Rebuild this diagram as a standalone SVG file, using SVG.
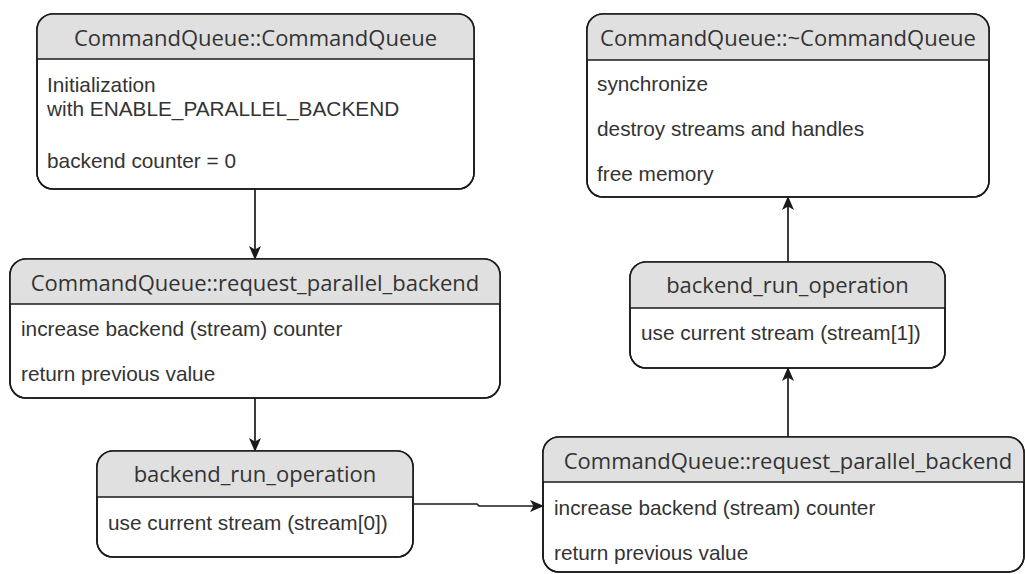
<svg xmlns="http://www.w3.org/2000/svg" width="1025" height="574" viewBox="0 0 1025 574">
<style>
.box{fill:#ffffff;stroke:#1a1a1a;stroke-width:1.6}
.hdr{fill:#e0e0e0;stroke:none}
.sep{stroke:#1a1a1a;stroke-width:1.6}
.title{font-family:"Open Sans","Noto Sans",sans-serif;font-size:22px;fill:#333333;text-anchor:middle;dominant-baseline:central}
.body{font-family:"Liberation Sans",Arial,sans-serif;font-size:20.8px;fill:#333333;dominant-baseline:central}
.edge{fill:none;stroke:#1a1a1a;stroke-width:1.7}
</style>
<defs>
<marker id="arr" viewBox="0 0 14 12" refX="13" refY="6" markerWidth="14" markerHeight="12" markerUnits="userSpaceOnUse" orient="auto">
<path d="M0,0 L14,6 L0,12 L3.5,6 Z" fill="#1a1a1a"/>
</marker>
<clipPath id="c1"><rect x="37" y="14" width="437" height="175" rx="16"/></clipPath>
<clipPath id="c2"><rect x="10" y="259" width="490" height="139" rx="16"/></clipPath>
<clipPath id="c3"><rect x="97" y="451" width="316" height="106" rx="16"/></clipPath>
<clipPath id="c4"><rect x="543" y="437" width="481" height="135" rx="16"/></clipPath>
<clipPath id="c5"><rect x="587" y="14" width="402" height="183" rx="16"/></clipPath>
<clipPath id="c6"><rect x="630" y="262" width="315" height="106" rx="16"/></clipPath>
</defs>
<g id="connectors">
<path class="edge" d="M255,189 L255,259" marker-end="url(#arr)"/>
<path class="edge" d="M255,398 L255,451" marker-end="url(#arr)"/>
<path class="edge" d="M413,504 L477,504 L479,506 L543,506" marker-end="url(#arr)"/>
<path class="edge" d="M788,437 L788,368" marker-end="url(#arr)"/>
<path class="edge" d="M788,262 L788,197" marker-end="url(#arr)"/>
</g>
<g id="node1">
<rect class="box" x="37" y="14" width="437" height="175" rx="16"/>
<rect class="hdr" x="37" y="14" width="437" height="45" clip-path="url(#c1)"/>
<rect x="37" y="14" width="437" height="175" rx="16" fill="none" stroke="#1a1a1a" stroke-width="1.6"/>
<line class="sep" x1="37" y1="59" x2="474" y2="59"/>
<text class="title" x="255.5" y="37">CommandQueue::CommandQueue</text>
<text class="body" x="47" y="84">Initialization</text>
<text class="body" x="47" y="108">with ENABLE_PARALLEL_BACKEND</text>
<text class="body" x="47" y="160">backend counter = 0</text>
</g>
<g id="node2">
<rect class="box" x="10" y="259" width="490" height="139" rx="16"/>
<rect class="hdr" x="10" y="259" width="490" height="45" clip-path="url(#c2)"/>
<rect x="10" y="259" width="490" height="139" rx="16" fill="none" stroke="#1a1a1a" stroke-width="1.6"/>
<line class="sep" x1="10" y1="304" x2="500" y2="304"/>
<text class="title" x="255" y="282">CommandQueue::request_parallel_backend</text>
<text class="body" x="21" y="328">increase backend (stream) counter</text>
<text class="body" x="21" y="373">return previous value</text>
</g>
<g id="node3">
<rect class="box" x="97" y="451" width="316" height="106" rx="16"/>
<rect class="hdr" x="97" y="451" width="316" height="46" clip-path="url(#c3)"/>
<rect x="97" y="451" width="316" height="106" rx="16" fill="none" stroke="#1a1a1a" stroke-width="1.6"/>
<line class="sep" x1="97" y1="497" x2="413" y2="497"/>
<text class="title" x="255" y="473">backend_run_operation</text>
<text class="body" x="108" y="522">use current stream (stream[0])</text>
</g>
<g id="node4">
<rect class="box" x="543" y="437" width="481" height="135" rx="16"/>
<rect class="hdr" x="543" y="437" width="481" height="45" clip-path="url(#c4)"/>
<rect x="543" y="437" width="481" height="135" rx="16" fill="none" stroke="#1a1a1a" stroke-width="1.6"/>
<line class="sep" x1="543" y1="482" x2="1024" y2="482"/>
<text class="title" x="788" y="460">CommandQueue::request_parallel_backend</text>
<text class="body" x="554" y="507">increase backend (stream) counter</text>
<text class="body" x="554" y="552">return previous value</text>
</g>
<g id="node5">
<rect class="box" x="587" y="14" width="402" height="183" rx="16"/>
<rect class="hdr" x="587" y="14" width="402" height="46" clip-path="url(#c5)"/>
<rect x="587" y="14" width="402" height="183" rx="16" fill="none" stroke="#1a1a1a" stroke-width="1.6"/>
<line class="sep" x1="587" y1="60" x2="989" y2="60"/>
<text class="title" x="788" y="37">CommandQueue::~CommandQueue</text>
<text class="body" x="597" y="83">synchronize</text>
<text class="body" x="597" y="128">destroy streams and handles</text>
<text class="body" x="597" y="173">free memory</text>
</g>
<g id="node6">
<rect class="box" x="630" y="262" width="315" height="106" rx="16"/>
<rect class="hdr" x="630" y="262" width="315" height="46" clip-path="url(#c6)"/>
<rect x="630" y="262" width="315" height="106" rx="16" fill="none" stroke="#1a1a1a" stroke-width="1.6"/>
<line class="sep" x1="630" y1="308" x2="945" y2="308"/>
<text class="title" x="787.5" y="284">backend_run_operation</text>
<text class="body" x="641" y="332">use current stream (stream[1])</text>
</g>
</svg>
